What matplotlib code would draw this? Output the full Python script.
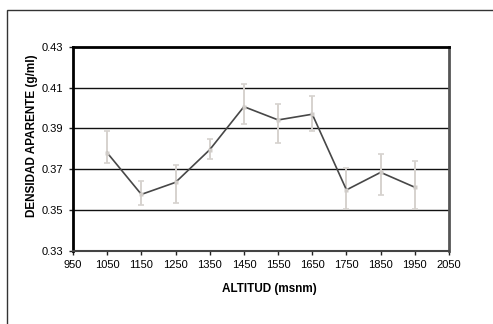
import numpy as np
import matplotlib
matplotlib.use("Agg")
import matplotlib.pyplot as plt
from matplotlib.patches import Rectangle

plt.rcParams['font.family'] = ['Liberation Sans', 'DejaVu Sans']

# altitude classes and mean bulk density with lower/upper error limits
altitud = [1050, 1150, 1250, 1350, 1450, 1550, 1650, 1750, 1850, 1950]
densidad = [0.378, 0.3576, 0.3635, 0.3795, 0.4006, 0.3941, 0.3969, 0.3598, 0.3684, 0.3611]
lim_sup = [0.3888, 0.3642, 0.3720, 0.3846, 0.4117, 0.4019, 0.4060, 0.3707, 0.3774, 0.3741]
lim_inf = [0.3728, 0.3523, 0.3535, 0.3749, 0.3921, 0.3829, 0.3888, 0.3503, 0.3575, 0.3503]

x_ticks = list(range(950, 2051, 100))
y_ticks = [0.33, 0.35, 0.37, 0.39, 0.41, 0.43]

W, H = 493, 324
fig = plt.figure(figsize=(W / 100, H / 100), dpi=100)

# outer chart frame
fig.patches.append(Rectangle((7 / W, -0.1), 1.2, (H - 10) / H + 0.1,
                             transform=fig.transFigure, fill=False,
                             edgecolor='#333333', lw=1.0))

ax = fig.add_axes([73 / W, (H - 250.7) / H, (449 - 73) / W, (250.7 - 46.7) / H])

for y in y_ticks[1:-1]:
    ax.axhline(y, color='#111111', lw=1.0, zorder=1)

d = np.array(densidad)
yerr = np.vstack([d - np.array(lim_inf), np.array(lim_sup) - d])
ax.errorbar(altitud, densidad, yerr=yerr, fmt='none', ecolor='#d6d2ce',
            elinewidth=1.4, capsize=2, capthick=1.2, zorder=2)
ax.plot(altitud, densidad, color='#474747', lw=1.2, zorder=3)
ax.plot(altitud, densidad, 's', color='#d0ccc8', ms=2.5, mec='none', zorder=4)

ax.set_xlim(950, 2050)
ax.set_ylim(0.33, 0.43)
ax.set_xticks(x_ticks)
ax.set_yticks(y_ticks)
ax.set_yticklabels([f'{v:.2f}' for v in y_ticks])
ax.tick_params(labelsize=8, length=3, width=1, direction='out', color='#222222', pad=4)

ax.spines['left'].set_color('black')
ax.spines['left'].set_linewidth(2.0)
ax.spines['top'].set_color('black')
ax.spines['top'].set_linewidth(2.0)
ax.spines['right'].set_color('#555555')
ax.spines['right'].set_linewidth(2.0)
ax.spines['bottom'].set_color('#444444')
ax.spines['bottom'].set_linewidth(1.5)

fig.text(269 / W, 1 - 289 / H, 'ALTITUD (msnm)', ha='center', va='center',
         fontsize=8.5, fontweight='bold')
fig.text(32 / W, 1 - 136 / H, 'DENSIDAD APARENTE (g/ml)', ha='center', va='center',
         rotation=90, fontsize=8.5, fontweight='bold')

fig.savefig('out.png', dpi=100)
